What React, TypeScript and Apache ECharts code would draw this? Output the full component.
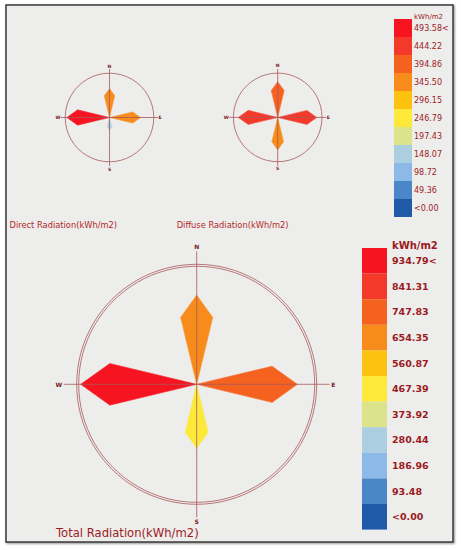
import React, { useEffect, useRef } from "react";
import * as echarts from "echarts";

const directions = ["N", "E", "S", "W"];
const directionAngles = [0, 90, 180, 270];

const directValues = [346, 371, 152, 510];
const diffuseValues = [428, 467, 389, 471];
const totalValues = [744, 839, 533, 967];

const smallRingMax = 530;
const totalRingMax = 1000;

const smallBreaks = [0, 49.36, 98.72, 148.07, 197.43, 246.79, 296.15, 345.5, 394.86, 444.22, 493.58];
const smallTickLabels = ["<0.00", "49.36", "98.72", "148.07", "197.43", "246.79", "296.15", "345.50", "394.86", "444.22", "493.58<"];
const totalBreaks = [0, 93.48, 186.96, 280.44, 373.92, 467.39, 560.87, 654.35, 747.83, 841.31, 934.79];
const totalTickLabels = ["<0.00", "93.48", "186.96", "280.44", "373.92", "467.39", "560.87", "654.35", "747.83", "841.31", "934.79<"];
const palette = ["#1f5aa8", "#4a86c8", "#8db9e8", "#abcfe0", "#dce38a", "#fde93a", "#fcc20f", "#f78b1b", "#f5611f", "#f3392a", "#f51420"];

const unitLabel = "kWh/m2";
const titles = ["Direct Radiation(kWh/m2)", "Diffuse Radiation(kWh/m2)", "Total Radiation(kWh/m2)"];

const FONT = "DejaVu Sans";
const LINE = "#a9585c";
const LABEL = "#7a1a1c";

function makePieces(breaks: number[], labels: string[]) {
  return breaks.map((b, i) => {
    const p: any = { min: b, label: labels[i], color: palette[i] };
    if (i < breaks.length - 1) p.max = breaks[i + 1];
    return p;
  });
}

function toData(values: number[]) {
  return values.map((v, i) => [v, directionAngles[i]]);
}

const petal = (params: any, api: any) => {
  const v = api.value(0);
  const a = api.value(1);
  const c = api.coord([0, a]);
  const l = api.coord([v * 0.77, a - 13.5]);
  const t = api.coord([v, a]);
  const r = api.coord([v * 0.77, a + 13.5]);
  const color = api.visual("color");
  return {
    type: "polygon",
    shape: { points: [c, l, t, r] },
    style: { fill: color, stroke: echarts.color.lift(color, 0.12), lineWidth: 0.6 },
  };
};

export default function App() {
  const ref = useRef<HTMLDivElement>(null);
  useEffect(() => {
    document.body.style.margin = "0";
    if (!ref.current) return;
    const chart = echarts.init(ref.current, undefined, { renderer: "svg" });

    const smallC1 = [109.5, 117.5];
    const smallC2 = [277.7, 117.4];
    const bigC = [196.7, 384.3];

    const polar = [
      { center: smallC1, radius: 44.3 },
      { center: smallC1, radius: 48.5 },
      { center: smallC2, radius: 44.3 },
      { center: smallC2, radius: 48.5 },
      { center: bigC, radius: 120 },
      { center: bigC, radius: 118 },
      { center: bigC, radius: 133 },
    ];

    const ringAxis = (idx: number) => ({
      polarIndex: idx,
      type: "value",
      min: 0,
      max: 360,
      startAngle: 90,
      clockwise: true,
      axisLine: { show: true, lineStyle: { color: LINE, width: 0.8 } },
      axisTick: { show: false },
      axisLabel: { show: false },
      splitLine: { show: false },
    });
    const crossAxis = (idx: number, fontSize: number, margin: number) => ({
      polarIndex: idx,
      type: "category",
      data: directions,
      boundaryGap: false,
      startAngle: 90,
      clockwise: true,
      z: 5,
      axisLine: { show: false },
      axisTick: { show: false },
      axisLabel: { show: true, margin, color: LABEL, fontSize, fontWeight: "bold", fontFamily: FONT },
      splitLine: { show: true, lineStyle: { color: LINE, width: 0.8 } },
    });

    const angleAxis = [
      ringAxis(0),
      crossAxis(1, 4.5, 0.5),
      ringAxis(2),
      crossAxis(3, 4.5, 0.5),
      ringAxis(4),
      ringAxis(5),
      crossAxis(6, 6, 1.5),
    ];
    const radiusMax = [smallRingMax, 1, smallRingMax, 1, totalRingMax, 1, 1];
    const radiusAxis = radiusMax.map((m, i) => ({ polarIndex: i, type: "value", min: 0, max: m, show: false }));

    const option: any = {
      animation: false,
      backgroundColor: "#ffffff",
      polar,
      angleAxis,
      radiusAxis,
      visualMap: [
        {
          type: "piecewise",
          seriesIndex: [0, 1],
          dimension: 0,
          orient: "vertical",
          align: "left",
          left: 394,
          top: 19,
          padding: 0,
          itemWidth: 18,
          itemHeight: 18,
          itemGap: 0,
          itemSymbol: "rect",
          textGap: 2,
          showLabel: true,
          pieces: makePieces(smallBreaks, smallTickLabels),
          textStyle: { color: "#9e1b1e", fontSize: 8, fontFamily: FONT },
        },
        {
          type: "piecewise",
          seriesIndex: [2],
          dimension: 0,
          orient: "vertical",
          align: "left",
          left: 362,
          top: 248,
          padding: 0,
          itemWidth: 25,
          itemHeight: 25.6,
          itemGap: 0,
          itemSymbol: "rect",
          textGap: 5,
          showLabel: true,
          pieces: makePieces(totalBreaks, totalTickLabels),
          textStyle: { color: "#9b1a1e", fontSize: 9.5, fontWeight: "bold", fontFamily: FONT },
        },
      ],
      series: [
        { type: "custom", name: titles[0], coordinateSystem: "polar", polarIndex: 0, renderItem: petal, encode: { radius: 0, angle: 1 }, data: toData(directValues) },
        { type: "custom", name: titles[1], coordinateSystem: "polar", polarIndex: 2, renderItem: petal, encode: { radius: 0, angle: 1 }, data: toData(diffuseValues) },
        { type: "custom", name: titles[2], coordinateSystem: "polar", polarIndex: 4, renderItem: petal, encode: { radius: 0, angle: 1 }, data: toData(totalValues) },
      ],
      graphic: [
        {
          type: "rect",
          z: -10,
          shape: { x: 6, y: 5, width: 447, height: 537 },
          style: {
            fill: "#ededeb",
            stroke: "#3a3a3a",
            lineWidth: 1.5,
            shadowBlur: 2,
            shadowOffsetX: 1,
            shadowOffsetY: 1,
            shadowColor: "rgba(0,0,0,0.45)",
          },
        },
        { type: "text", x: 9.5, y: 224.5, style: { text: titles[0], fill: "#b3262a", fontSize: 8.3, fontFamily: FONT, verticalAlign: "middle", align: "left" } },
        { type: "text", x: 176.7, y: 224.5, style: { text: titles[1], fill: "#b3262a", fontSize: 8.3, fontFamily: FONT, verticalAlign: "middle", align: "left" } },
        { type: "text", x: 56, y: 533, style: { text: titles[2], fill: "#9d1c1f", fontSize: 11.6, fontFamily: FONT, verticalAlign: "middle", align: "left" } },
        { type: "text", x: 414, y: 16.5, style: { text: unitLabel, fill: "#9e1b1e", fontSize: 7, fontFamily: FONT, verticalAlign: "middle", align: "left" } },
        { type: "text", x: 392, y: 245.5, style: { text: unitLabel, fill: "#9b1a1e", fontSize: 10, fontWeight: "bold", fontFamily: FONT, verticalAlign: "middle", align: "left" } },
      ],
    };
    chart.setOption(option);
    return () => chart.dispose();
  }, []);
  return <div ref={ref} style={{ width: 461, height: 550 }} />;
}
